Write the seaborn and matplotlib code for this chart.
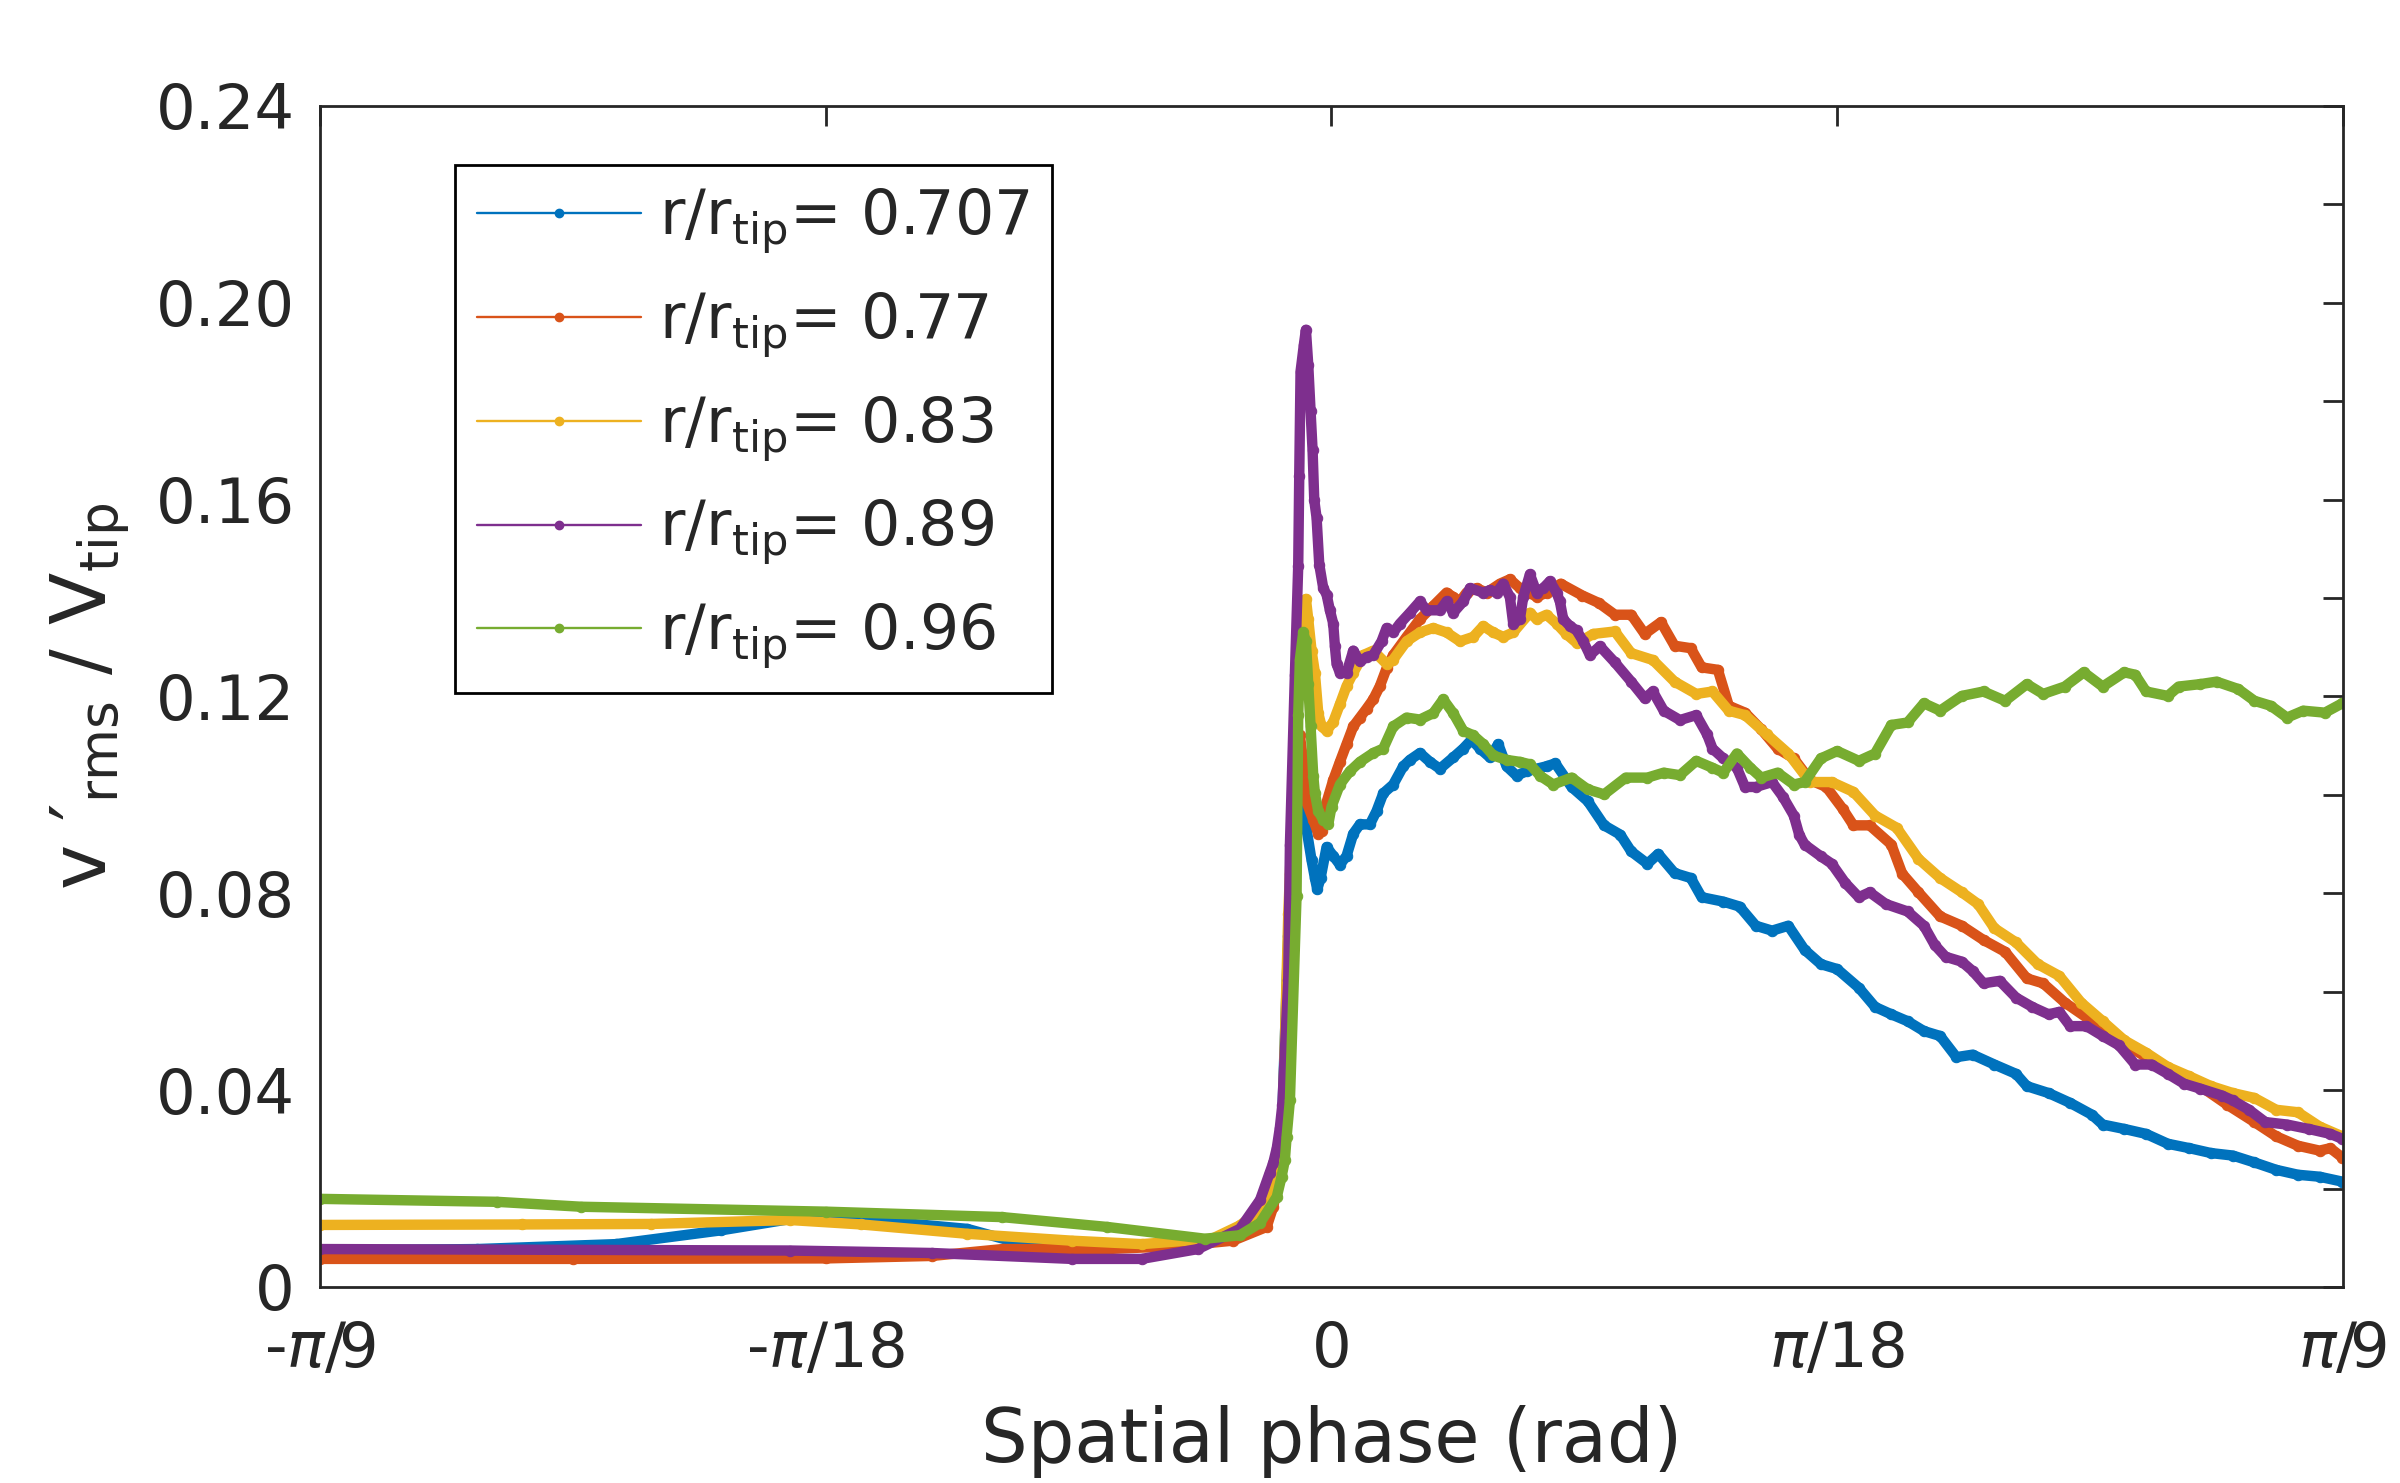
import numpy as np
import pandas as pd
import matplotlib
matplotlib.use("Agg")
import matplotlib.pyplot as plt
from matplotlib.lines import Line2D
import seaborn as sns

# ---------------- data (phase in degrees, value = v'_rms / V_tip) ----------------
series_labels = ["0.707", "0.77", "0.83", "0.89", "0.96"]
colors = ["#0072BD", "#D95319", "#EDB120", "#7E2F8E", "#77AC30"]

phase_0707 = [-20.0, -16.9, -14.15, -12.07, -10.7, -9.86, -8.6, -7.2, -6.1, -4.44, -3.05, -1.95,
              -1.216, -1.084, -0.985, -0.853, -0.820, -0.755, -0.656, -0.590, -0.491, -0.392,
              -0.326, -0.280, -0.214, -0.095, 0.036, 0.168, 0.300, 0.432, 0.564, 0.761, 0.893,
              1.025, 1.223, 1.420, 1.552, 1.750, 1.948, 2.145, 2.409, 2.607, 2.772, 2.936, 3.134,
              3.299, 3.464, 3.661, 3.859, 4.057, 4.254, 4.427, 4.749, 5.070, 5.392, 5.713, 5.928,
              6.249, 6.463, 6.785, 7.106, 7.321, 7.749, 8.071, 8.392, 8.714, 9.035, 9.357, 9.678,
              10.0, 10.429, 10.75, 11.072, 11.393, 11.715, 12.036, 12.358, 12.679, 13.108, 13.537,
              13.751, 14.18, 14.608, 15.037, 15.251, 15.68, 16.109, 16.538, 16.966, 17.395, 17.824,
              18.252, 18.681, 19.109, 19.538, 19.988]
v_0707 = [0.0074, 0.0077, 0.0087, 0.0115, 0.0138, 0.0140, 0.0131, 0.0118, 0.0087, 0.0082, 0.0083, 0.0104,
          0.0171, 0.0244, 0.0305, 0.0713, 0.0795, 0.0958, 0.1003, 0.0958, 0.0930, 0.0867,
          0.0831, 0.0808, 0.0831, 0.0894, 0.0876, 0.0858, 0.0876, 0.0921, 0.0940, 0.0940, 0.0967,
          0.1003, 0.1021, 0.1058, 0.1071, 0.1085, 0.1067, 0.1053, 0.1076, 0.1094, 0.1112, 0.1094, 0.1076,
          0.1103, 0.1058, 0.1039, 0.1048, 0.1053, 0.1058, 0.1064, 0.1016, 0.0987, 0.0938, 0.0919, 0.0885,
          0.0860, 0.0880, 0.0841, 0.0831, 0.0792, 0.0783, 0.0773, 0.0734, 0.0724, 0.0734, 0.0685, 0.0656,
          0.0646, 0.0608, 0.0569, 0.0554, 0.0540, 0.0520, 0.0510, 0.0467, 0.0472, 0.0452, 0.0433,
          0.0408, 0.0394, 0.0374, 0.0350, 0.0330, 0.0321, 0.0311, 0.0291, 0.0282, 0.0272, 0.0267,
          0.0253, 0.0238, 0.0228, 0.0224, 0.0214]

phase_077 = [-20.0, -15.0, -10.0, -7.9, -6.5, -4.44, -3.05, -1.95, -1.28, -1.15, -1.05, -0.985, -0.95,
             -0.853, -0.788, -0.689, -0.623, -0.557, -0.491, -0.359, -0.260, -0.194, -0.095, 0.036,
             0.168, 0.300, 0.432, 0.564, 0.695, 0.827, 0.959, 1.091, 1.223, 1.486, 1.750, 2.014,
             2.277, 2.409, 2.541, 2.673, 2.870, 3.068, 3.332, 3.529, 3.727, 3.925, 4.057, 4.254,
             4.534, 4.963, 5.285, 5.606, 5.928, 6.195, 6.517, 6.785, 7.106, 7.321, 7.642, 7.857,
             8.178, 8.5, 8.821, 9.143, 9.464, 9.786, 10.107, 10.322, 10.643, 11.072, 11.286, 11.608,
             12.036, 12.465, 12.894, 13.322, 13.751, 14.073, 14.501, 15.037, 15.573, 16.109, 16.645,
             17.181, 17.716, 18.252, 18.681, 19.109, 19.538, 19.752, 19.988]
v_077 = [0.0057, 0.0057, 0.0058, 0.0063, 0.0077, 0.0077, 0.0083, 0.0094, 0.0122, 0.0163, 0.0211, 0.0278, 0.0346,
         0.0686, 0.0776, 0.1048, 0.1121, 0.1067, 0.0985, 0.0949, 0.0921, 0.0926, 0.0985, 0.1030,
         0.1067, 0.1103, 0.1139, 0.1157, 0.1175, 0.1194, 0.1221, 0.1257, 0.1284, 0.1321, 0.1357, 0.1384,
         0.1411, 0.1402, 0.1393, 0.1411, 0.1420, 0.1411, 0.1429, 0.1438, 0.1420, 0.1411, 0.1402, 0.1411,
         0.1429, 0.1405, 0.1390, 0.1366, 0.1366, 0.1327, 0.1351, 0.1303, 0.1298, 0.1259, 0.1254, 0.1181,
         0.1167, 0.1133, 0.1094, 0.1074, 0.1030, 0.1016, 0.0972, 0.0938, 0.0938, 0.0899, 0.0840, 0.0802,
         0.0753, 0.0734, 0.0705, 0.0681, 0.0627, 0.0617, 0.0578, 0.0540, 0.0501, 0.0467, 0.0438,
         0.0408, 0.0370, 0.0335, 0.0306, 0.0287, 0.0277, 0.0282, 0.0263]

phase_083 = [-20.0, -16.0, -13.45, -10.7, -9.3, -7.2, -5.13, -3.75, -2.36, -1.81, -1.41, -1.15, -1.02,
             -0.96, -0.853, -0.820, -0.722, -0.623, -0.544, -0.504, -0.458, -0.392, -0.326, -0.260,
             -0.194, -0.095, 0.036, 0.168, 0.300, 0.432, 0.630, 0.827, 1.091, 1.223, 1.486, 1.750,
             2.014, 2.277, 2.541, 2.805, 3.002, 3.200, 3.398, 3.595, 3.925, 4.057, 4.254, 4.452,
             4.642, 4.856, 5.177, 5.606, 5.928, 6.356, 6.785, 7.214, 7.535, 7.857, 8.178, 8.607,
             9.035, 9.464, 9.893, 10.322, 10.75, 11.179, 11.608, 12.036, 12.465, 12.787, 13.108,
             13.537, 13.965, 14.394, 14.823, 15.251, 15.68, 16.109, 16.538, 16.966, 17.395, 17.824,
             18.252, 18.681, 19.109, 19.538, 19.988]
v_083 = [0.0126, 0.0127, 0.0128, 0.0136, 0.0127, 0.0108, 0.0094, 0.0087, 0.0098, 0.0125, 0.0156, 0.0211, 0.0313,
         0.0346, 0.0758, 0.0840, 0.1139, 0.1302, 0.1384, 0.1398, 0.1357, 0.1293, 0.1248, 0.1166,
         0.1139, 0.1130, 0.1148, 0.1184, 0.1221, 0.1248, 0.1284, 0.1293, 0.1266, 0.1275, 0.1312, 0.1330,
         0.1339, 0.1330, 0.1312, 0.1321, 0.1343, 0.1330, 0.1321, 0.1330, 0.1370, 0.1357, 0.1366, 0.1348,
         0.1327, 0.1308, 0.1327, 0.1332, 0.1288, 0.1274, 0.1230, 0.1205, 0.1210, 0.1171, 0.1162, 0.1123,
         0.1084, 0.1026, 0.1026, 0.1006, 0.0958, 0.0933, 0.0870, 0.0831, 0.0802, 0.0778, 0.0729,
         0.0700, 0.0656, 0.0632, 0.0578, 0.0540, 0.0501, 0.0476, 0.0447, 0.0428, 0.0408, 0.0394,
         0.0384, 0.0360, 0.0355, 0.0326, 0.0306]

phase_089 = [-20.0, -10.7, -7.9, -5.13, -3.75, -2.64, -1.81, -1.41, -1.22, -1.15, -1.08, -1.02, -0.97,
             -0.853, -0.820, -0.722, -0.656, -0.636, -0.610, -0.544, -0.504, -0.458, -0.412, -0.372,
             -0.339, -0.293, -0.240, -0.161, -0.095, -0.030, 0.036, 0.069, 0.102, 0.168, 0.300, 0.432,
             0.564, 0.695, 0.827, 0.992, 1.091, 1.223, 1.355, 1.552, 1.750, 1.882, 2.145, 2.277, 2.409,
             2.607, 2.739, 3.002, 3.134, 3.266, 3.398, 3.529, 3.595, 3.727, 3.793, 3.925, 4.057, 4.189,
             4.320, 4.452, 4.518, 4.584, 4.716, 4.848, 4.980, 5.111, 5.309, 5.606, 5.928, 6.195, 6.356,
             6.571, 6.892, 7.214, 7.428, 7.535, 7.749, 8.017, 8.178, 8.392, 8.714, 8.928, 9.143, 9.250,
             9.357, 9.678, 9.893, 10.161, 10.429, 10.643, 10.965, 11.393, 11.715, 11.929, 12.143,
             12.465, 12.679, 12.894, 13.215, 13.537, 13.858, 14.180, 14.394, 14.608, 14.930, 15.251,
             15.573, 15.894, 16.216, 16.538, 16.859, 17.181, 17.609, 17.824, 18.145, 18.467, 18.895,
             19.324, 19.752, 19.988]
v_089 = [0.0077, 0.0074, 0.0069, 0.0057, 0.0057, 0.0077, 0.0118, 0.0177, 0.0232, 0.0252, 0.0282, 0.0323, 0.0370,
         0.0624, 0.0899, 0.1244, 0.1466, 0.1647, 0.1860, 0.1915, 0.1945, 0.1874, 0.1780, 0.1700,
         0.1599, 0.1563, 0.1468, 0.1420, 0.1407, 0.1375, 0.1348, 0.1302, 0.1266, 0.1248, 0.1248, 0.1293,
         0.1271, 0.1280, 0.1284, 0.1312, 0.1339, 0.1330, 0.1348, 0.1370, 0.1393, 0.1375, 0.1375, 0.1393, 0.1370,
         0.1393, 0.1420, 0.1411, 0.1416, 0.1411, 0.1429, 0.1402, 0.1348, 0.1357, 0.1402, 0.1448, 0.1411, 0.1420,
         0.1434, 0.1411, 0.1393, 0.1357, 0.1343, 0.1334, 0.1312, 0.1284, 0.1302, 0.1269, 0.1230, 0.1196, 0.1210,
         0.1171, 0.1152, 0.1162, 0.1123, 0.1094, 0.1074, 0.1055, 0.1016, 0.1016, 0.1026, 0.0996, 0.0958, 0.0919,
         0.0899, 0.0875, 0.0860, 0.0821, 0.0792, 0.0802, 0.0778, 0.0763, 0.0734, 0.0695, 0.0671,
         0.0661, 0.0642, 0.0617, 0.0622, 0.0588, 0.0569, 0.0554, 0.0559, 0.0530, 0.0530, 0.0510,
         0.0491, 0.0452, 0.0452, 0.0433, 0.0413, 0.0403, 0.0389, 0.0379, 0.0360, 0.0335, 0.0330,
         0.0321, 0.0311, 0.0301]

phase_096 = [-20.0, -16.5, -14.84, -10.0, -6.52, -4.44, -2.5, -1.81, -1.41, -1.08, -0.985, -0.92, -0.886,
             -0.82, -0.689, -0.656, -0.623, -0.557, -0.504, -0.458, -0.412, -0.359, -0.326, -0.260,
             -0.161, -0.062, 0.003, 0.168, 0.366, 0.564, 0.827, 1.025, 1.223, 1.486, 1.750, 2.014,
             2.211, 2.409, 2.607, 2.805, 3.002, 3.200, 3.464, 3.727, 3.925, 4.123, 4.386, 4.749, 5.070,
             5.392, 5.820, 6.249, 6.571, 6.892, 7.214, 7.535, 7.749, 8.017, 8.285, 8.5, 8.821, 9.143,
             9.357, 9.678, 10.0, 10.429, 10.75, 11.072, 11.393, 11.715, 12.036, 12.465, 12.894, 13.322,
             13.751, 14.073, 14.501, 14.876, 15.251, 15.68, 15.894, 16.109, 16.538, 16.752, 17.181,
             17.502, 17.931, 18.252, 18.574, 18.895, 19.217, 19.645, 19.988]
v_096 = [0.0179, 0.0173, 0.0163, 0.0153, 0.0142, 0.0122, 0.0098, 0.0105, 0.0130, 0.0183, 0.0224, 0.0258, 0.0305,
         0.0380, 0.0795, 0.1162, 0.1275, 0.1330, 0.1312, 0.1225, 0.1139, 0.1039, 0.1003, 0.0967,
         0.0949, 0.0940, 0.0976, 0.1021, 0.1048, 0.1067, 0.1085, 0.1094, 0.1139, 0.1157, 0.1153, 0.1166,
         0.1194, 0.1166, 0.1130, 0.1121, 0.1103, 0.1080, 0.1071, 0.1067, 0.1062, 0.1039, 0.1021, 0.1035, 0.1011,
         0.1001, 0.1035, 0.1035, 0.1045, 0.1040, 0.1069, 0.1055, 0.1045, 0.1084, 0.1055, 0.1035, 0.1045, 0.1021,
         0.1026, 0.1074, 0.1089, 0.1069, 0.1084, 0.1142, 0.1147, 0.1186, 0.1171, 0.1201, 0.1210, 0.1191,
         0.1225, 0.1205, 0.1220, 0.1249, 0.1220, 0.1249, 0.1244, 0.1210, 0.1201, 0.1220, 0.1225,
         0.1230, 0.1215, 0.1191, 0.1181, 0.1157, 0.1171, 0.1167, 0.1186]

x_tick_fracs = [-1 / 9, -1 / 18, 0, 1 / 18, 1 / 9]
x_tick_labels = [r"-$\pi$/9", r"-$\pi$/18", "0", r"$\pi$/18", r"$\pi$/9"]
y_major = [0, 0.04, 0.08, 0.12, 0.16, 0.20, 0.24]
y_major_labels = ["0", "0.04", "0.08", "0.12", "0.16", "0.20", "0.24"]
y_minor = [0.02, 0.06, 0.10, 0.14, 0.18, 0.22]

# ---------------- build long table ----------------
phases = [phase_0707, phase_077, phase_083, phase_089, phase_096]
values = [v_0707, v_077, v_083, v_089, v_096]
frames = []
for lab, ph, v in zip(series_labels, phases, values):
    frames.append(pd.DataFrame({"phase": np.deg2rad(np.array(ph)), "v": v, "r": lab}))
df = pd.concat(frames, ignore_index=True)

# ---------------- style ----------------
sns.set_theme(style="white")
plt.rcParams["font.family"] = ["DejaVu Sans"]
plt.rcParams["mathtext.fontset"] = "dejavusans"
TXT = "#262626"

fig = plt.figure(figsize=(24, 14.83), dpi=100)
ax = fig.add_axes([0.1333, 0.1322, 0.8429, 0.7964])

sns.lineplot(data=df, x="phase", y="v", hue="r", hue_order=series_labels,
             palette=colors, estimator=None, sort=False, linewidth=7.5,
             marker=".", markersize=15, legend=False, ax=ax)
for line in ax.lines:
    line.set_markeredgecolor(line.get_color())
    line.set_markerfacecolor(line.get_color())
    line.set_solid_joinstyle("round")
    line.set_solid_capstyle("round")

ax.set_xlim(-np.pi / 9, np.pi / 9)
ax.set_ylim(0, 0.24)
ax.set_xticks(np.pi * np.array(x_tick_fracs))
ax.set_xticklabels(x_tick_labels)
ax.set_yticks(y_major)
ax.set_yticklabels(y_major_labels)
ax.set_yticks(y_minor, minor=True)
ax.tick_params(which="both", direction="in", top=True, right=True, length=14.5,
               width=2, color=TXT, labelsize=45, labelcolor=TXT)
ax.tick_params(axis="x", pad=24)
ax.tick_params(axis="y", pad=18)
ax.grid(False)
for s in ax.spines.values():
    s.set_visible(True)
    s.set_linewidth(2)
    s.set_color(TXT)

ax.set_xlabel("Spatial phase (rad)", fontsize=53, color=TXT)
ax.xaxis.set_label_coords(0.5, -0.100)
ax.set_ylabel(r"v ′$_{\mathrm{rms}}$ / V$_{\mathrm{tip}}$", fontsize=55, color=TXT)
ax.yaxis.set_label_coords(-0.093, 0.5)

handles = [Line2D([0], [0], color=c, lw=1.7, marker=".", markersize=12, mec=c, mfc=c) for c in colors]
labels = [r"r/r$_{\mathrm{tip}}$= " + s for s in series_labels]
leg = ax.legend(handles, labels, loc="upper left", bbox_to_anchor=(0.0667, 0.950),
                borderaxespad=0, fontsize=44.5, frameon=True, fancybox=False,
                edgecolor="black", framealpha=1, handlelength=2.65, handletextpad=0.3,
                labelspacing=0.56, borderpad=0.36, numpoints=1)
leg.get_frame().set_linewidth(2)

fig.savefig("out.png", dpi=100, facecolor="white")
